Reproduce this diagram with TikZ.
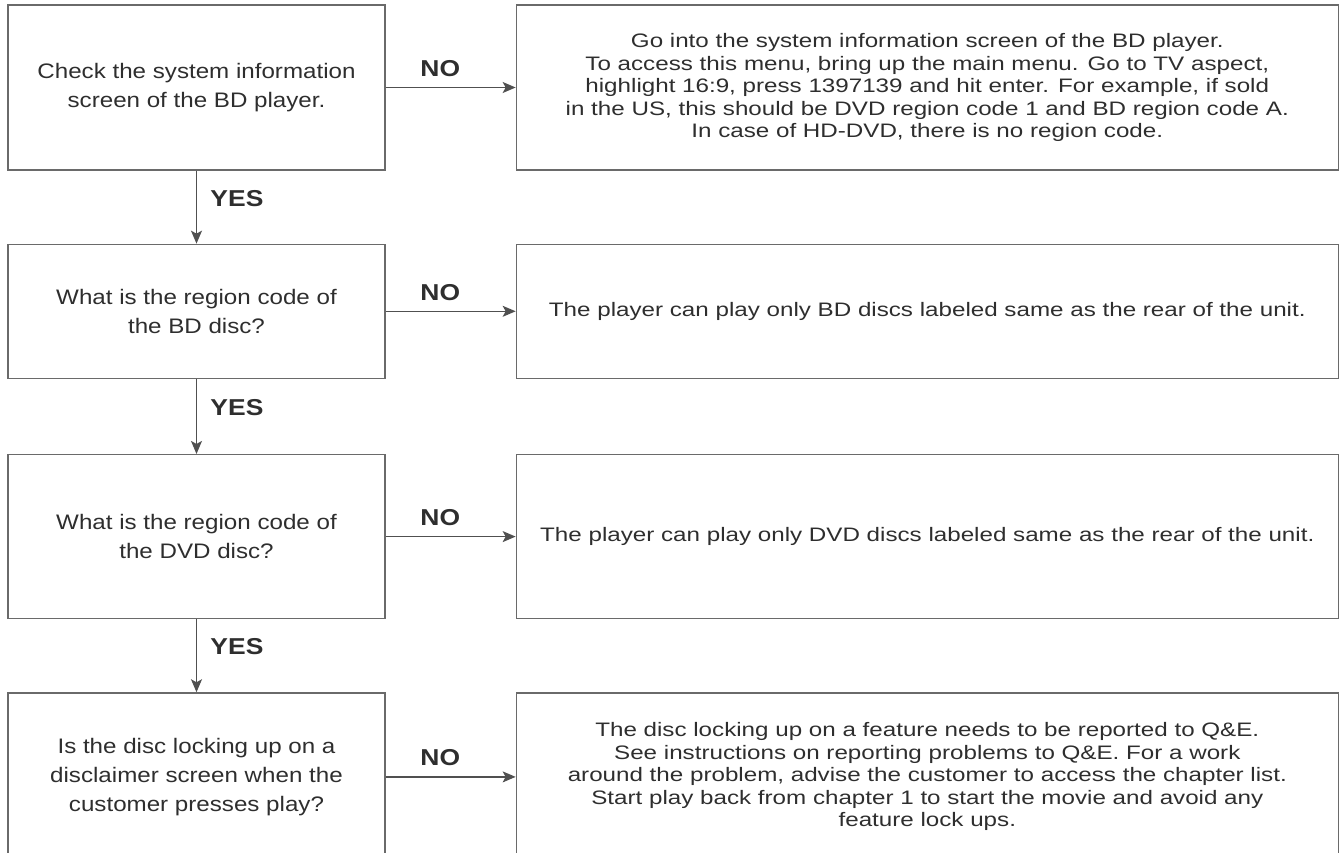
\documentclass[tikz,border=0pt]{standalone}
\usepackage{fontspec}
\setmainfont[FakeStretch=1.15]{Liberation Sans}
\newfontfamily\widefont[FakeStretch=1.24]{Liberation Sans}
\usetikzlibrary{arrows.meta, positioning}
\definecolor{linegray}{HTML}{6A6A6A}
\definecolor{arrowgray}{HTML}{505050}
\definecolor{textgray}{HTML}{2E2E2E}

\begin{document}
\begin{tikzpicture}[
    x=1pt, y=1pt,
    qbox/.style={rectangle, draw=linegray, line width=1.3pt, minimum width=377pt, text=textgray, align=center, font=\fontsize{21}{29}\selectfont},
    abox/.style={rectangle, draw=linegray, line width=1.3pt, minimum width=822pt, text=textgray, align=center, font=\widefont\fontsize{19.5}{22.5}\selectfont},
    arrow/.style={-{Stealth[length=13pt, width=11pt, inset=3pt]}, draw=arrowgray, line width=1.3pt},
    answer/.style={font=\bfseries\fontsize{23}{26}\selectfont, text=textgray}
]
    \clip (0,0) rectangle (1339,-853);

    % Questions
    \node[qbox, minimum height=165pt] (check) at (196.5,-87.5) {Check the system information\\screen of the BD player.};
    \node[qbox, minimum height=134pt, below=73pt of check] (bdcode) {What is the region code of\\the BD disc?};
    \node[qbox, minimum height=164pt, below=75pt of bdcode] (dvdcode) {What is the region code of\\the DVD disc?};
    \node[qbox, minimum height=168pt, below=73pt of dvdcode] (lockup) {Is the disc locking up on a\\disclaimer screen when the\\customer presses play?};

    % Answers
    \node[abox, minimum height=165pt, right=130pt of check] (sysinfo) {Go into the system information screen of the BD player.\\To access this menu, bring up the main menu. Go to TV aspect,\\highlight 16:9, press 1397139 and hit enter. For example, if sold\\in the US, this should be DVD region code 1 and BD region code A.\\In case of HD-DVD, there is no region code.};
    \node[abox, minimum height=134pt, right=130pt of bdcode] (bdonly) {The player can play only BD discs labeled same as the rear of the unit.};
    \node[abox, minimum height=164pt, right=130pt of dvdcode] (dvdonly) {The player can play only DVD discs labeled same as the rear of the unit.};
    \node[abox, minimum height=168pt, right=130pt of lockup] (report) {The disc locking up on a feature needs to be reported to Q\&E.\\See instructions on reporting problems to Q\&E. For a work\\around the problem, advise the customer to access the chapter list.\\Start play back from chapter 1 to start the movie and avoid any\\feature lock ups.};

    % Arrows
    \draw[arrow] (check) -- node[answer, pos=0.42, above=7pt] {NO} (sysinfo);
    \draw[arrow] (bdcode) -- node[answer, pos=0.42, above=7pt] {NO} (bdonly);
    \draw[arrow] (dvdcode) -- node[answer, pos=0.42, above=7pt] {NO} (dvdonly);
    \draw[arrow] (lockup) -- node[answer, pos=0.42, above=7pt] {NO} (report);
    \draw[arrow] (check) -- node[answer, right=10pt, yshift=9pt] {YES} (bdcode);
    \draw[arrow] (bdcode) -- node[answer, right=10pt, yshift=9pt] {YES} (dvdcode);
    \draw[arrow] (dvdcode) -- node[answer, right=10pt, yshift=9pt] {YES} (lockup);
\end{tikzpicture}
\end{document}
